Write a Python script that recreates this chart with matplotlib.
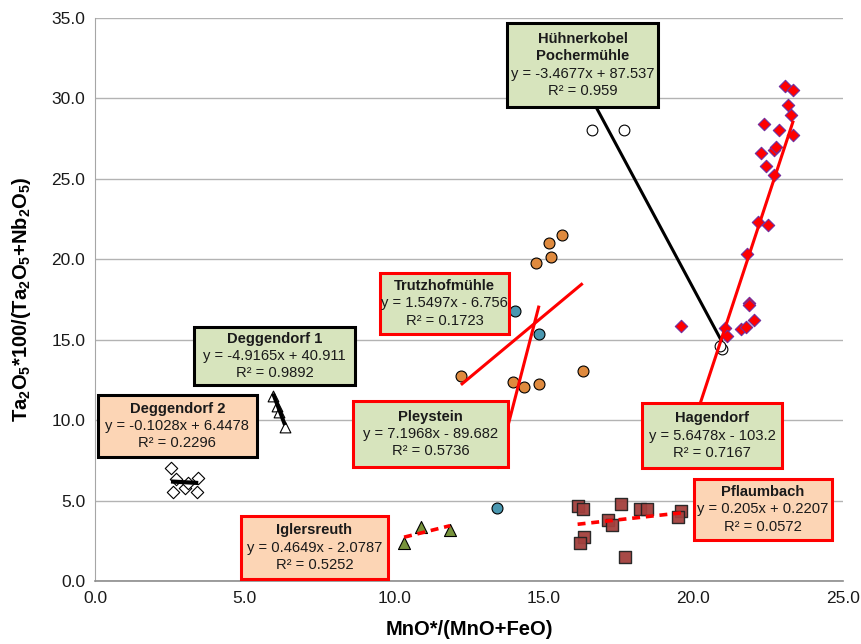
import matplotlib.pyplot as plt
from matplotlib.patches import Rectangle

plt.rcParams['font.family'] = ['Liberation Sans', 'DejaVu Sans']
plt.rcParams['mathtext.fontset'] = 'custom'
plt.rcParams['mathtext.rm'] = 'Liberation Sans:bold'
plt.rcParams['mathtext.bf'] = 'Liberation Sans:bold'
plt.rcParams['mathtext.default'] = 'bf'

# valores
huehner_x = [16.61, 17.68, 20.95, 20.88]
huehner_y = [28.05, 28.05, 14.43, 14.60]

hagen_x = [23.06, 23.32, 23.17, 23.25, 22.37, 22.87, 23.34, 22.25, 22.69, 22.76,
           22.43, 22.69, 22.17, 22.50, 21.78, 21.87, 21.85, 22.04, 21.58, 21.76,
           21.06, 21.13, 19.59]
hagen_y = [30.78, 30.53, 29.60, 28.96, 28.42, 28.05, 27.72, 26.62, 26.80, 26.99,
           25.77, 25.27, 22.33, 22.12, 20.34, 17.31, 17.16, 16.23, 15.65, 15.78,
           15.72, 15.24, 15.86]

trutz_x = [15.60, 15.18, 15.24, 14.74, 12.23, 13.96, 14.35, 14.85, 16.30]
trutz_y = [21.52, 21.04, 20.17, 19.76, 12.77, 12.40, 12.05, 12.25, 13.06]

pley_x = [14.04, 14.84, 13.43]
pley_y = [16.79, 15.34, 4.52]

degg1_x = [5.95, 6.08, 6.15, 6.35]
degg1_y = [11.50, 10.90, 10.50, 9.60]

degg2_x = [2.54, 2.71, 2.60, 3.01, 3.12, 3.45, 3.42]
degg2_y = [7.01, 6.32, 5.55, 5.76, 6.08, 6.39, 5.55]

igl_x = [10.33, 10.89, 11.87]
igl_y = [2.38, 3.34, 3.17]

pfl_x = [16.13, 16.32, 17.58, 18.22, 18.44, 17.14, 17.27, 16.34, 16.21, 17.71, 19.58, 19.49]
pfl_y = [4.68, 4.48, 4.79, 4.46, 4.46, 3.81, 3.50, 2.75, 2.38, 1.51, 4.35, 4.00]

# lineas de tendencia: pendiente, ordenada, R2
huehner_fit = (-3.4677, 87.537, 0.959)
hagen_fit = (5.6478, -103.2, 0.7167)
trutz_fit = (1.5497, -6.756, 0.1723)
pley_fit = (7.1968, -89.682, 0.5736)
degg1_fit = (-4.9165, 40.911, 0.9892)
degg2_fit = (-0.1028, 6.4478, 0.2296)
igl_fit = (0.4649, -2.0787, 0.5252)
pfl_fit = (0.205, 0.2207, 0.0572)

verde = '#d7e4bd'
salmon = '#fcd5b5'
rojo = '#ff0000'

fig = plt.figure(figsize=(8.61, 6.44), dpi=100)
ax = fig.add_axes([95/861, 63/644, 748/861, 563/644])


def tendencia(xs, fit, color, ls='-', lw=2.2):
    x0, x1 = min(xs), max(xs)
    ax.plot([x0, x1], [fit[0]*x0 + fit[1], fit[0]*x1 + fit[1]],
            color=color, ls=ls, lw=lw, zorder=4, solid_capstyle='butt')


def caja(x0, y0, x1, y1, titulo, fit, fondo, borde):
    ax.add_patch(Rectangle((x0, y0), x1 - x0, y1 - y0, facecolor=fondo,
                           edgecolor=borde, lw=2.2, zorder=5))
    signo = '+' if fit[1] >= 0 else '-'
    lineas = [(t, 'bold') for t in titulo]
    lineas += [('y = %sx %s %s' % (fit[0], signo, abs(fit[1])), 'normal'),
               ('R² = %s' % fit[2], 'normal')]
    cx, cy = (x0 + x1) / 2, (y0 + y1) / 2
    n = len(lineas)
    for i, (t, w) in enumerate(lineas):
        ax.annotate(t, (cx, cy), xytext=(0, ((n - 1) / 2 - i) * 12.4),
                    textcoords='offset points', ha='center', va='center',
                    fontsize=10.6, fontweight=w, color='#1a1a1a', zorder=6)


# puntos
ax.scatter(huehner_x, huehner_y, s=60, marker='o', facecolor='white', edgecolor='black', lw=0.8, zorder=3)
ax.scatter(hagen_x, hagen_y, s=40, marker='D', facecolor=rojo, edgecolor='#7030a0', lw=0.8, zorder=3)
ax.scatter(trutz_x, trutz_y, s=62, marker='o', facecolor='#df8a3e', edgecolor='black', lw=0.8, zorder=3)
ax.scatter(pley_x, pley_y, s=62, marker='o', facecolor='#4a97b0', edgecolor='black', lw=0.8, zorder=3)
ax.scatter(degg1_x, degg1_y, s=60, marker='^', facecolor='white', edgecolor='black', lw=0.8, zorder=3)
ax.scatter(degg2_x, degg2_y, s=40, marker='D', facecolor='white', edgecolor='black', lw=0.8, zorder=3)
ax.scatter(igl_x, igl_y, s=75, marker='^', facecolor='#77933c', edgecolor='black', lw=0.8, zorder=3)
ax.scatter(pfl_x, pfl_y, s=68, marker='s', facecolor='#a3403d', edgecolor='#222222', lw=1.0, alpha=0.95, zorder=3)

# lineas de tendencia
tendencia(huehner_x, huehner_fit, 'black')
tendencia(hagen_x, hagen_fit, rojo)
tendencia(trutz_x, trutz_fit, rojo)
tendencia(pley_x, pley_fit, rojo)
tendencia(degg1_x, degg1_fit, 'black', lw=2.8)
tendencia(degg2_x, degg2_fit, 'black', lw=3)
tendencia(igl_x, igl_fit, rojo, ls=(0, (2.2, 1.6)), lw=2.6)
tendencia(pfl_x, pfl_fit, rojo, ls=(0, (2.2, 1.6)), lw=2.6)

# etiquetas de las rectas
caja(13.77, 29.47, 18.82, 34.69, ['Hühnerkobel', 'Pochermühle'], huehner_fit, verde, 'black')
caja(9.53, 15.36, 13.84, 19.15, ['Trutzhofmühle'], trutz_fit, verde, rojo)
caja(8.62, 7.09, 13.80, 11.19, ['Pleystein'], pley_fit, verde, rojo)
caja(3.31, 12.18, 8.69, 15.79, ['Deggendorf 1'], degg1_fit, verde, 'black')
caja(0.10, 7.71, 5.41, 11.56, ['Deggendorf 2'], degg2_fit, salmon, 'black')
caja(4.88, 0.12, 9.79, 4.04, ['Iglersreuth'], igl_fit, salmon, rojo)
caja(20.02, 2.55, 24.63, 6.34, ['Pflaumbach'], pfl_fit, salmon, rojo)
caja(18.28, 7.02, 22.96, 11.07, ['Hagendorf'], hagen_fit, verde, rojo)

ax.set_xlim(0, 25)
ax.set_ylim(0, 35)
ax.set_xticks([0, 5, 10, 15, 20, 25])
ax.set_yticks([0, 5, 10, 15, 20, 25, 30, 35])
ax.set_xticklabels(['%.1f' % v for v in ax.get_xticks()])
ax.set_yticklabels(['%.1f' % v for v in ax.get_yticks()])
ax.tick_params(length=0, labelsize=12.5, pad=7, colors='#1a1a1a')
ax.yaxis.grid(True, color='#b3b3b3', lw=1)
ax.set_axisbelow(True)
for s in ['top', 'right']:
    ax.spines[s].set_visible(False)
ax.spines['left'].set_color('#a6a6a6')
ax.spines['bottom'].set_color('#8c8c8c')
ax.spines['bottom'].set_linewidth(1.2)

ax.set_xlabel('MnO*/(MnO+FeO)', fontsize=14.5, fontweight='bold', labelpad=10)
ax.set_ylabel(r'Ta$_2$O$_5$*100/(Ta$_2$O$_5$+Nb$_2$O$_5$)', fontsize=14.5, fontweight='bold')
ax.yaxis.set_label_coords((33 - 95) / 748, 0.5)

plt.savefig('out.png', dpi=100)
